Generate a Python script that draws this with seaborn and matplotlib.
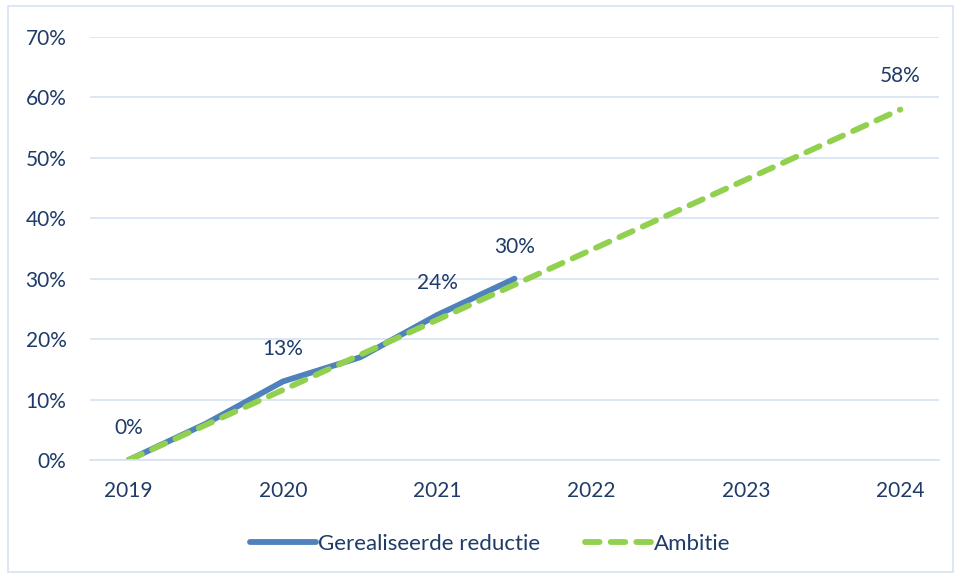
import numpy as np
import pandas as pd
import seaborn as sns
import matplotlib.pyplot as plt
from matplotlib.patches import Rectangle

# half-year periods, labels only on the full years
periods = list(range(11))
tick_labels = ['2019', '', '2020', '', '2021', '', '2022', '', '2023', '', '2024']
realised = [0.0, 6.0, 13.0, 17.0, 24.0, 30.0]           # Gerealiseerde reductie (%)
ambition = [0.0, 5.8, 11.6, 17.4, 23.2, 29.0, 34.8, 40.6, 46.4, 52.2, 58.0]  # Ambitie (%)
labelled_real = [0, 2, 4, 5]
labelled_amb = [10]

blue = '#4F81BD'
green = '#92D050'
txt = '#1F3B68'
grid = '#D6E1F2'

sns.set_style('white')
plt.rcParams['font.family'] = ['Lato', 'DejaVu Sans']

df_real = pd.DataFrame({'x': periods[:len(realised)], 'y': realised})
df_amb = pd.DataFrame({'x': periods, 'y': ambition})

fig = plt.figure(figsize=(9.55, 5.73), dpi=100)
ax = fig.add_axes([90 / 955, 1 - 460 / 573, (939 - 90) / 955, (460 - 37) / 573])

sns.lineplot(data=df_real, x='x', y='y', ax=ax, color=blue, linewidth=4.2,
             solid_capstyle='round', label='Gerealiseerde reductie')
sns.lineplot(data=df_amb, x='x', y='y', ax=ax, color=green, linewidth=4.2,
             label='Ambitie')
ax.lines[1].set_dashes((2.5, 1.9))
ax.lines[1].set_dash_capstyle('round')

for i in labelled_real:
    ax.annotate(f'{realised[i]:.0f}%', (periods[i], realised[i]), xytext=(0, 23),
                textcoords='offset points', ha='center', va='center', color=txt, fontsize=15)
for i in labelled_amb:
    ax.annotate(f'{ambition[i]:.0f}%', (periods[i], ambition[i]), xytext=(0, 24),
                textcoords='offset points', ha='center', va='center', color=txt, fontsize=15)

ax.set_xlim(-0.5, 10.5)
ax.set_ylim(0, 70)
ax.set_yticks(range(0, 71, 10))
ax.set_yticklabels([f'{v}%' for v in range(0, 71, 10)])
ax.set_xticks(periods)
ax.set_xticklabels(tick_labels)
ax.set_xticks(np.arange(-0.5, 11, 1), minor=True)
ax.tick_params(axis='x', which='major', length=0, pad=15, labelsize=15, labelcolor=txt)
ax.tick_params(axis='x', which='minor', length=6, width=1.2, color=grid, direction='out')
ax.tick_params(axis='y', length=0, pad=17, labelsize=15, labelcolor=txt)
ax.grid(axis='y', color=grid, linewidth=1.2)
ax.set_axisbelow(True)
ax.set_xlabel('')
ax.set_ylabel('')
for s in ['top', 'right', 'left']:
    ax.spines[s].set_visible(False)
ax.spines['bottom'].set_color(grid)
ax.spines['bottom'].set_linewidth(1.2)

ax.get_legend().remove()
h, l = ax.get_legend_handles_labels()
fig.legend(h, l, loc='center', bbox_to_anchor=(490 / 955, 1 - 544 / 573), ncol=2,
           frameon=False, fontsize=16, labelcolor=txt, handlelength=3.0,
           handletextpad=0.1, columnspacing=2.0)

fig.patches.append(Rectangle((8 / 955, 0.002), 1 - 8 / 955 - 0.002, 1 - 6 / 573 - 0.002,
                             transform=fig.transFigure, fill=False, edgecolor=grid, linewidth=1.2))

fig.savefig('out.png', dpi=100)
